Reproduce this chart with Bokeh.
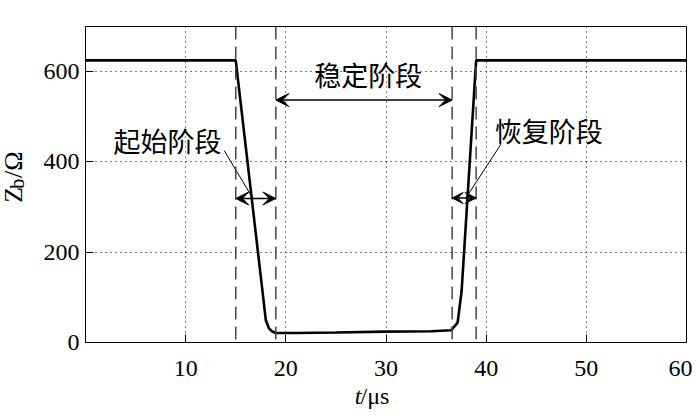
import math
from bokeh.plotting import figure
from bokeh.layouts import row, column
from bokeh.models import Range1d, FixedTicker, Span, Arrow, VeeHead
from bokeh.core.properties import value
from bokeh.embed import file_html
from bokeh.resources import INLINE

# ---- data ----
t_us = [0, 15, 18.0, 18.3, 18.6, 19.0, 21, 25, 30, 34.5, 36.5, 37.15, 37.55, 39.0, 60]
z_ohm = [625, 625, 50, 32, 25, 21, 21, 22, 24, 25, 27, 44, 114, 625, 625]
stage_bounds = [15, 19, 36.6, 39]
x_ticks = [10, 20, 30, 40, 50, 60]
y_ticks = [0, 200, 400, 600]
stage_names = ["起始阶段", "稳定阶段", "恢复阶段"]

SERIF = "Liberation Serif"
CJK = "Noto Sans CJK SC"

LW, MW, MH, BH = 30, 662, 382, 27

def blank(w, h):
    f = figure(width=w, height=h, output_backend="svg", toolbar_location=None,
               x_range=Range1d(0, w), y_range=Range1d(0, h),
               x_axis_type=None, y_axis_type=None,
               min_border_left=0, min_border_right=0, min_border_top=0, min_border_bottom=0)
    f.grid.visible = False
    f.outline_line_color = None
    f.background_fill_color = "white"
    f.border_fill_color = "white"
    return f

p = figure(width=MW, height=MH, output_backend="svg", toolbar_location=None,
           x_range=Range1d(0, 60), y_range=Range1d(0, 700),
           min_border_left=55, min_border_right=6, min_border_top=26, min_border_bottom=40)
p.background_fill_color = "white"
p.border_fill_color = "white"
p.outline_line_color = "black"
p.outline_line_width = 1

for ax, ticks in ((p.xaxis[0], x_ticks), (p.yaxis[0], y_ticks)):
    ax.ticker = FixedTicker(ticks=ticks)
    ax.minor_tick_line_color = None
    ax.major_tick_in = 8
    ax.major_tick_out = 0
    ax.axis_line_color = "black"
    ax.major_tick_line_color = "black"
    ax.major_label_text_font = SERIF
    ax.major_label_text_font_size = "24px"
    ax.major_label_text_color = "black"
p.xaxis.major_label_standoff = 18
p.yaxis.major_label_standoff = 6

for g in (p.xgrid[0], p.ygrid[0]):
    g.grid_line_color = "black"
    g.grid_line_dash = "1 4"
    g.grid_line_width = 1
p.xgrid.ticker = FixedTicker(ticks=x_ticks)
p.ygrid.ticker = FixedTicker(ticks=y_ticks)

for b in stage_bounds:
    p.add_layout(Span(location=b, dimension="height", line_color="#444444",
                      line_width=1.5, line_dash="13 7"))

p.line(t_us, z_ohm, line_color="black", line_width=2.6)

def darrow(x0, x1, y, size):
    p.add_layout(Arrow(x_start=x0, y_start=y, x_end=x1, y_end=y, line_width=1.5,
                       line_color="black",
                       start=VeeHead(size=size, fill_color="black", line_color="black"),
                       end=VeeHead(size=size, fill_color="black", line_color="black")))

darrow(stage_bounds[1], stage_bounds[2], 537, 13)
darrow(stage_bounds[0], stage_bounds[1], 319, 13)
darrow(stage_bounds[2], stage_bounds[3], 320, 11)

# leader lines
p.segment(x0=[13.85, 41.47], y0=[425, 439], x1=[16.69, 37.97], y1=[320, 320],
          line_color="black", line_width=1)

p.text(x=[8.18, 28.24, 46.26], y=[448, 593, 469], text=stage_names,
       text_font=value(CJK), text_font_size="27px", text_color="black",
       text_align="center", text_baseline="middle")

# ---- y-axis title panel: Z_b/Ω ----
L = blank(LW, MH)
L.text(x=[12.5], y=[169], text=["Z"], angle=math.pi / 2, text_font=value(SERIF),
       text_font_size="26px", text_align="left", text_baseline="middle", text_color="black")
L.text(x=[16], y=[186], text=["b"], angle=math.pi / 2, text_font=value(SERIF),
       text_font_size="20px", text_align="left", text_baseline="middle", text_color="black")
L.text(x=[12.5], y=[199], text=["/Ω"], angle=math.pi / 2, text_font=value(SERIF),
       text_font_size="26px", text_align="left", text_baseline="middle", text_color="black")

# ---- x-axis title panel: t/μs ----
B = blank(LW + MW, BH)
B.text(x=[361], y=[13.5], text=["t"], text_font=value(SERIF), text_font_style="italic",
       text_font_size="24px", text_align="right", text_baseline="middle", text_color="black")
B.text(x=[360], y=[13.5], text=["/μs"], text_font=value(SERIF),
       text_font_size="24px", text_align="left", text_baseline="middle", text_color="black")

layout = column(row(L, p, spacing=0), B, spacing=0)
open("out.html", "w").write(file_html(layout, INLINE))
